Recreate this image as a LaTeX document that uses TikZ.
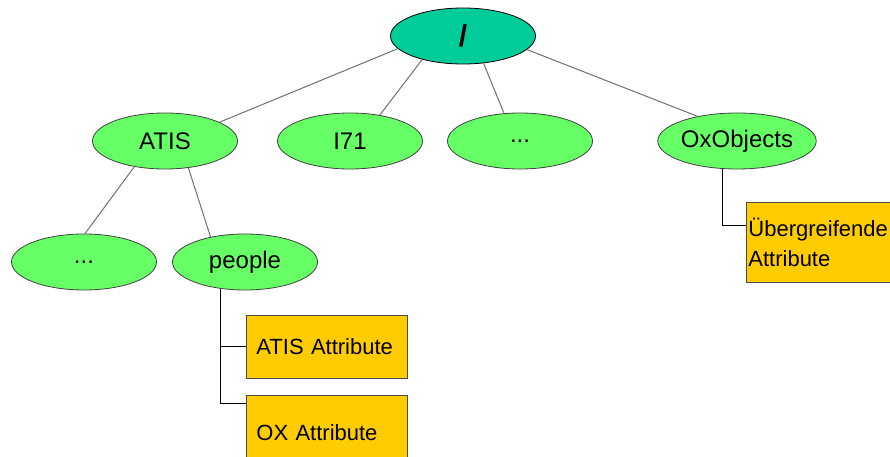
\documentclass[tikz,border=0pt]{standalone}
\usepackage{fontspec}
\setmainfont{Liberation Sans}
\usetikzlibrary{shapes.geometric}
\definecolor{rootfill}{HTML}{00CC99}
\definecolor{nodefill}{HTML}{66FF66}
\definecolor{boxfill}{HTML}{FFCC00}
\definecolor{edgegray}{HTML}{707070}
\tikzset{
  ell/.style={ellipse, draw=black!75, line width=0.8pt, fill=nodefill,
    minimum width=145pt, minimum height=56pt, inner sep=0pt,
    font=\fontsize{24}{28}\selectfont},
  rootell/.style={ell, fill=rootfill, draw=black,
    font=\fontsize{30}{34}\selectfont\bfseries},
  attrbox/.style={rectangle, draw=black!70, line width=0.8pt, fill=boxfill,
    anchor=north west, align=left, inner ysep=0pt,
    font=\fontsize{22}{29}\selectfont},
  tree/.style={draw=edgegray, line width=1pt},
  elbow/.style={draw=black, line width=1pt}
}
\begin{document}
\begin{tikzpicture}[x=1pt,y=-1pt]
\useasboundingbox (0,0) rectangle (890,457);
\clip (0,0) rectangle (890,457);
% nodes
\node[rootell] (root) at (463,36) {/};
\node[ell] (atis) at (165,141) {ATIS};
\node[ell] (i71) at (350,141) {I71};
\node[ell] (dots1) at (520,141) {...};
\node[ell] (ox) at (737,141) {OxObjects};
\node[ell] (dots2) at (84,262) {...};
\node[ell] (people) at (245,262) {people};
\node[attrbox, minimum width=161pt, minimum height=63pt, inner xsep=10pt, text width=141pt] (atisattr) at (246,315) {ATIS Attribute};
\node[attrbox, minimum width=161pt, minimum height=74pt, inner xsep=10pt, text width=141pt] (oxattr) at (246,395) {OX Attribute};
\node[attrbox, minimum width=160pt, minimum height=80pt, inner xsep=2pt, text width=156pt] (ueb) at (746,202) {Übergreifende\\Attribute};
% connectors
\draw[tree] (root.191) -- (atis.19);
\draw[tree] (root.210) -- (i71.41);
\draw[tree] (root.307) -- (dots1.120);
\draw[tree] (root.348) -- (ox.148);
\draw[tree] (atis.220) -- (dots2.88);
\draw[tree] (atis.311) -- (people.144);
\draw[elbow] (people.228) |- (atisattr.west);
\draw[elbow] (people.228) |- ([yshift=-8pt]oxattr.north west);
\draw[elbow] (ox.243) |- ([yshift=-23pt]ueb.north west);
\end{tikzpicture}
\end{document}
